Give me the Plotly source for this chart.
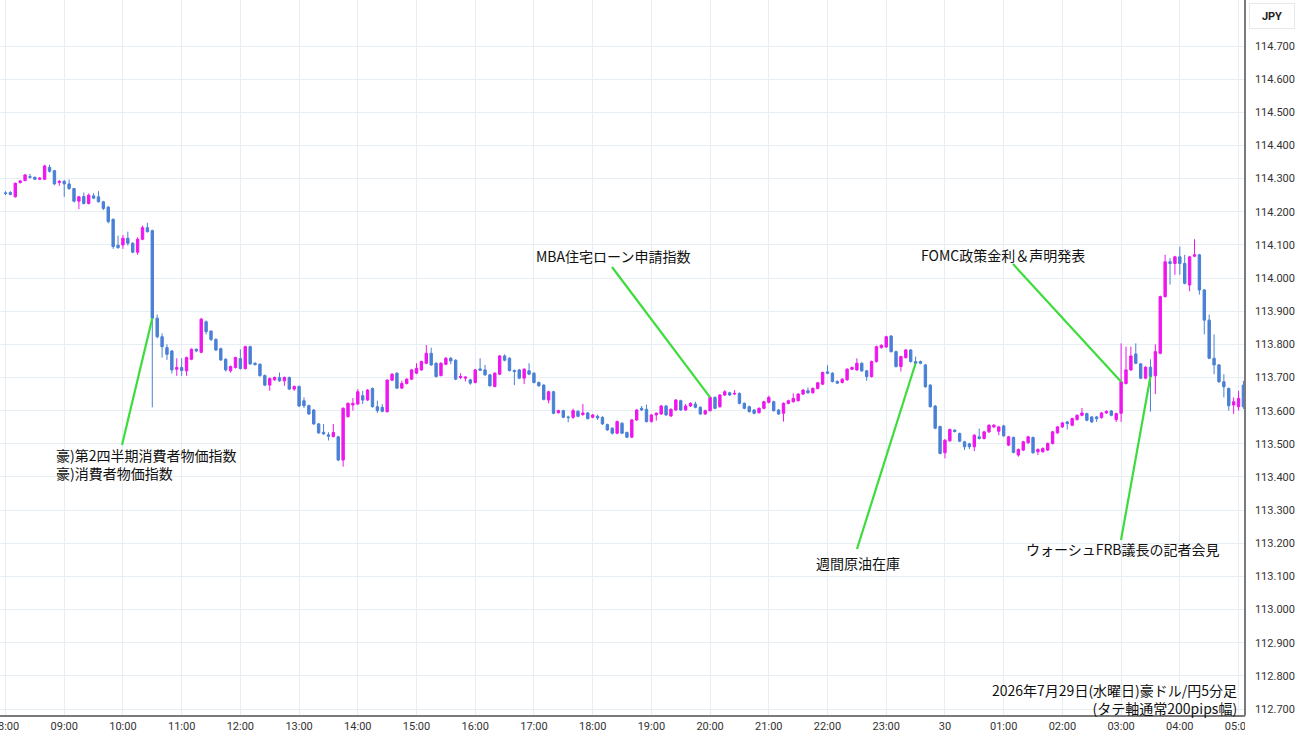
import pandas as pd
import plotly.graph_objects as go

# ---- data: AUD/JPY 5-minute candles, 2026-07-29 08:00 -> 2026-07-30 05:05 ----
start_time = "2026-07-29 08:00"

opens = [
114.257,114.258,114.245,114.288,114.294,114.306,114.304,114.298,114.298,114.334,
114.324,114.288,114.292,114.284,114.270,114.232,114.246,114.225,114.248,114.245,
114.230,114.214,114.177,114.099,114.100,114.120,114.105,114.078,114.117,114.152,
114.143,113.879,113.823,113.790,113.780,113.725,113.730,113.720,113.755,113.785,
113.776,113.868,113.840,113.815,113.787,113.755,113.720,113.730,113.757,113.727,
113.793,113.743,113.740,113.706,113.677,113.693,113.700,113.690,113.700,113.665,
113.673,113.630,113.615,113.602,113.560,113.535,113.527,113.522,113.521,113.451,
113.582,113.617,113.620,113.645,113.632,113.667,113.612,113.610,113.597,113.692,
113.713,113.668,113.682,113.695,113.713,113.723,113.743,113.773,113.743,113.706,
113.740,113.758,113.752,113.700,113.698,113.693,113.685,113.726,113.723,113.708,
113.673,113.710,113.765,113.758,113.721,113.723,113.698,113.720,113.713,113.685,
113.677,113.632,113.657,113.594,113.600,113.581,113.580,113.598,113.588,113.593,
113.580,113.583,113.580,113.558,113.547,113.532,113.562,113.534,113.520,113.572,
113.607,113.604,113.567,113.587,113.590,113.614,113.584,113.602,113.630,113.602,
113.614,113.620,113.610,113.590,113.600,113.640,113.612,113.647,113.654,113.650,
113.652,113.622,113.612,113.602,113.594,113.607,113.625,113.627,113.602,113.592,
113.622,113.627,113.630,113.650,113.660,113.654,113.667,113.680,113.717,113.713,
113.688,113.685,113.693,113.725,113.723,113.743,113.720,113.703,113.748,113.790,
113.792,113.825,113.778,113.733,113.760,113.783,113.748,113.748,113.738,113.677,
113.614,113.552,113.473,113.509,113.541,113.531,113.506,113.500,113.491,113.521,
113.516,113.536,113.551,113.538,113.554,113.496,113.519,113.466,113.481,113.503,
113.519,113.476,113.476,113.481,113.501,113.533,113.551,113.566,113.556,113.573,
113.586,113.591,113.581,113.581,113.579,113.593,113.599,113.573,113.592,113.682,
113.723,113.771,113.741,113.698,113.731,113.705,113.773,113.944,114.049,114.044,
114.064,114.044,113.979,114.066,114.070,113.964,113.873,113.758,113.738,113.687,
113.667,113.617,113.612,113.677]

highs = [
114.262,114.262,114.288,114.296,114.314,114.314,114.306,114.305,114.342,114.342,
114.326,114.295,114.296,114.297,114.272,114.248,114.258,114.255,114.256,114.262,
114.233,114.217,114.180,114.128,114.130,114.140,114.108,114.123,114.158,114.167,
114.146,113.890,113.833,113.800,113.783,113.758,113.758,113.763,113.788,113.788,
113.880,113.872,113.842,113.818,113.790,113.758,113.736,113.763,113.785,113.796,
113.796,113.746,113.743,113.709,113.700,113.703,113.715,113.703,113.703,113.676,
113.676,113.640,113.618,113.605,113.563,113.560,113.535,113.560,113.524,113.610,
113.625,113.638,113.665,113.660,113.665,113.670,113.630,113.620,113.695,113.713,
113.716,113.690,113.698,113.726,113.743,113.751,113.798,113.790,113.746,113.746,
113.762,113.762,113.755,113.713,113.704,113.696,113.726,113.758,113.738,113.711,
113.716,113.768,113.770,113.761,113.724,113.726,113.728,113.743,113.716,113.688,
113.680,113.660,113.660,113.603,113.603,113.585,113.606,113.601,113.620,113.596,
113.590,113.588,113.583,113.561,113.550,113.570,113.565,113.537,113.575,113.605,
113.614,113.618,113.590,113.595,113.617,113.617,113.607,113.635,113.633,113.620,
113.625,113.627,113.613,113.603,113.643,113.643,113.650,113.662,113.657,113.662,
113.655,113.625,113.615,113.605,113.610,113.630,113.645,113.630,113.605,113.625,
113.633,113.652,113.653,113.665,113.670,113.670,113.687,113.718,113.737,113.716,
113.691,113.698,113.728,113.733,113.758,113.746,113.723,113.751,113.796,113.800,
113.826,113.828,113.781,113.766,113.786,113.786,113.763,113.751,113.741,113.680,
113.617,113.555,113.514,113.546,113.544,113.534,113.509,113.503,113.529,113.546,
113.539,113.559,113.559,113.554,113.557,113.524,113.522,113.486,113.509,113.524,
113.522,113.486,113.489,113.504,113.539,113.554,113.566,113.569,113.579,113.589,
113.608,113.594,113.584,113.584,113.596,113.601,113.602,113.594,113.803,113.793,
113.793,113.803,113.744,113.734,113.755,113.800,113.947,114.070,114.060,114.067,
114.095,114.070,114.067,114.117,114.073,113.967,113.890,113.830,113.741,113.710,
113.670,113.640,113.660,113.690]

lows = [
114.250,114.250,114.243,114.285,114.292,114.300,114.296,114.296,114.296,114.318,
114.280,114.278,114.245,114.266,114.228,114.208,114.222,114.222,114.238,114.228,
114.205,114.165,114.088,114.088,114.088,114.098,114.075,114.070,114.114,114.137,
113.610,113.818,113.760,113.753,113.712,113.705,113.705,113.705,113.752,113.776,
113.773,113.830,113.810,113.780,113.750,113.718,113.715,113.727,113.724,113.724,
113.738,113.736,113.702,113.674,113.660,113.690,113.687,113.675,113.662,113.660,
113.611,113.608,113.587,113.557,113.530,113.527,113.510,113.519,113.448,113.431,
113.579,113.600,113.617,113.620,113.629,113.609,113.593,113.595,113.594,113.689,
113.665,113.665,113.679,113.692,113.710,113.720,113.740,113.735,113.700,113.703,
113.737,113.740,113.692,113.695,113.688,113.678,113.682,113.720,113.705,113.672,
113.670,113.707,113.749,113.718,113.677,113.695,113.680,113.707,113.682,113.672,
113.631,113.622,113.589,113.591,113.577,113.565,113.575,113.580,113.585,113.573,
113.577,113.572,113.557,113.539,113.528,113.529,113.529,113.517,113.517,113.569,
113.599,113.564,113.564,113.570,113.587,113.584,113.581,113.599,113.599,113.599,
113.611,113.607,113.587,113.587,113.597,113.604,113.609,113.644,113.644,113.647,
113.619,113.604,113.594,113.589,113.591,113.604,113.622,113.597,113.587,113.567,
113.619,113.624,113.627,113.647,113.651,113.651,113.664,113.677,113.710,113.685,
113.680,113.682,113.690,113.722,113.720,113.717,113.690,113.700,113.745,113.787,
113.789,113.775,113.730,113.718,113.757,113.745,113.740,113.740,113.669,113.609,
113.544,113.468,113.456,113.506,113.534,113.505,113.481,113.484,113.478,113.513,
113.513,113.533,113.548,113.526,113.521,113.493,113.471,113.461,113.478,113.500,
113.470,113.466,113.473,113.478,113.498,113.530,113.548,113.543,113.553,113.570,
113.583,113.568,113.563,113.566,113.576,113.590,113.583,113.566,113.566,113.679,
113.720,113.740,113.695,113.695,113.597,113.650,113.770,113.941,113.980,114.010,
114.010,113.981,113.960,114.063,113.950,113.830,113.755,113.710,113.684,113.640,
113.600,113.590,113.600,113.605]

closes = [
114.255,114.252,114.286,114.293,114.311,114.304,114.298,114.301,114.338,114.322,
114.284,114.292,114.284,114.270,114.232,114.245,114.225,114.250,114.241,114.230,
114.210,114.170,114.095,114.092,114.120,114.105,114.078,114.117,114.152,114.140,
113.879,113.823,113.793,113.770,113.723,113.730,113.721,113.760,113.785,113.780,
113.876,113.838,113.815,113.783,113.753,113.723,113.733,113.760,113.727,113.793,
113.741,113.739,113.706,113.677,113.697,113.700,113.690,113.700,113.665,113.673,
113.614,113.615,113.590,113.560,113.533,113.530,113.523,113.534,113.451,113.607,
113.622,113.622,113.657,113.632,113.662,113.612,113.600,113.598,113.692,113.710,
113.668,113.682,113.695,113.723,113.728,113.748,113.773,113.738,113.703,113.743,
113.758,113.750,113.695,113.703,113.701,113.683,113.723,113.722,113.708,113.675,
113.713,113.765,113.752,113.721,113.718,113.698,113.725,113.710,113.685,113.675,
113.634,113.657,113.592,113.600,113.580,113.579,113.600,113.583,113.593,113.576,
113.587,113.578,113.560,113.542,113.532,113.567,113.532,113.520,113.572,113.602,
113.602,113.567,113.587,113.592,113.614,113.587,113.604,113.632,113.602,113.614,
113.622,113.610,113.590,113.600,113.640,113.607,113.647,113.657,113.647,113.652,
113.622,113.607,113.597,113.592,113.607,113.627,113.640,113.600,113.590,113.622,
113.630,113.637,113.650,113.662,113.654,113.667,113.684,113.715,113.713,113.688,
113.683,113.695,113.725,113.730,113.743,113.720,113.703,113.748,113.793,113.797,
113.823,113.778,113.733,113.763,113.783,113.748,113.743,113.743,113.672,113.612,
113.547,113.471,113.511,113.543,113.537,113.508,113.491,113.491,113.526,113.516,
113.536,113.556,113.556,113.551,113.524,113.521,113.474,113.483,113.506,113.521,
113.473,113.483,113.486,113.501,113.536,113.551,113.563,113.561,113.576,113.586,
113.593,113.571,113.566,113.576,113.593,113.598,113.586,113.591,113.687,113.723,
113.765,113.743,113.698,113.731,113.703,113.778,113.944,114.049,114.044,114.064,
114.044,113.984,114.064,114.070,113.964,113.873,113.758,113.738,113.687,113.672,
113.615,113.627,113.637,113.612]

hour_ticks = ["08:00","09:00","10:00","11:00","12:00","13:00","14:00","15:00",
              "16:00","17:00","18:00","19:00","20:00","21:00","22:00","23:00",
              "30","01:00","02:00","03:00","04:00","05:00"]

# events: label text and the candle index the pointer touches
event_labels = ["豪)第2四半期消費者物価指数<br>豪)消費者物価指数", "MBA住宅ローン申請指数", "週間原油在庫",
                "FOMC政策金利＆声明発表", "ウォーシュFRB議長の記者会見"]
event_candle = [30, 144, 186, 228, 234]

caption = "2026年7月29日(水曜日)豪ドル/円5分足<br>(タテ軸通常200pips幅)"

y_ticks = [112.7 + 0.1 * i for i in range(21)]

# ---- build ----
t0 = pd.Timestamp(start_time)
times = [t0 + pd.Timedelta(minutes=5 * i) for i in range(len(opens))]
hour_vals = [t0 + pd.Timedelta(hours=h) for h in range(len(hour_ticks))]

UP = "#ee16ee"
DOWN = "#4a80d6"
GREEN = "#3ddc3d"

fig = go.Figure(go.Candlestick(
    x=times, open=opens, high=highs, low=lows, close=closes,
    increasing=dict(line=dict(color=UP, width=1), fillcolor=UP),
    decreasing=dict(line=dict(color=DOWN, width=1), fillcolor=DOWN),
    whiskerwidth=0, showlegend=False, hoverinfo="skip",
))

# pixel calibration of the plot area (for placing annotation text)
PX0, PXSTEP = 5.5, 4.893          # x pixel of first candle, px per 5 min
PY_REF, PRICE_REF, PY_PER = 46.0, 114.7, 331.5


def px_to_time(px):
    return t0 + pd.Timedelta(minutes=5 * (px - PX0) / PXSTEP)


def py_to_price(py):
    return PRICE_REF - (py - PY_REF) / PY_PER


x_range = [px_to_time(0), px_to_time(1244)]
y_range = [py_to_price(715), py_to_price(0)]

font_jp = "Noto Sans CJK JP, Noto Sans, sans-serif"
lbl_font = dict(family=font_jp, size=14, color="#111")

# pointer lines from label to candle close
starts_px = [(122, 445), (612, 267), (857, 549), (1013, 264), (1121, 540)]
shapes = []
for (sx, sy), ci in zip(starts_px, event_candle):
    shapes.append(dict(type="line", xref="x", yref="y",
                       x0=px_to_time(sx), y0=py_to_price(sy),
                       x1=times[ci], y1=closes[ci],
                       line=dict(color=GREEN, width=2.2), layer="above"))


def label(text, px, py, anchor="left", align="left"):
    return dict(x=px_to_time(px), y=py_to_price(py), xref="x", yref="y",
                text=text, showarrow=False, xanchor=anchor, yanchor="middle",
                align=align, borderpad=0, font=lbl_font)


# text labels (left px, center py)
text_pos = [(55, 464), (535, 256), (815, 563), (920, 255), (1025, 549)]
annotations = [label(lab, tx, ty) for lab, (tx, ty) in zip(event_labels, text_pos)]
annotations.append(label(caption, 1238, 699, "right", "right"))

# currency box on the price scale
annotations.append(dict(x=1.0, y=1.0, xref="paper", yref="paper", xshift=5, yshift=-3,
                        text="<b>JPY</b>", showarrow=False, xanchor="left", yanchor="top",
                        width=40, height=20, bordercolor="#e8e8e8", borderwidth=1, borderpad=2,
                        bgcolor="white", font=dict(family="Roboto, sans-serif", size=11, color="#222")))

# hide the part of 05:00 label under the price scale
shapes.append(dict(type="rect", xref="paper", yref="paper", x0=1.0008, x1=1.06, y0=-0.06, y1=-0.001,
                   fillcolor="white", line=dict(width=0), layer="above"))

fig.update_layout(
    width=1300, height=745,
    margin=dict(l=0, r=56, t=0, b=30, autoexpand=False),
    paper_bgcolor="white", plot_bgcolor="white",
    shapes=shapes, annotations=annotations,
    xaxis=dict(range=x_range, rangeslider=dict(visible=False),
               tickvals=hour_vals, ticktext=hour_ticks, tickangle=0,
               ticklabeloverflow="allow", automargin=False,
               showgrid=True, gridcolor="#e6edf3", gridwidth=1,
               showline=True, linecolor="#7a7a7a", linewidth=2,
               ticks="", tickfont=dict(family="Roboto, sans-serif", size=11, color="#333"),
               zeroline=False, fixedrange=True),
    yaxis=dict(range=y_range, side="right", tickvals=y_ticks,
               ticktext=[f"{v:.3f}" for v in y_ticks], automargin=False,
               showgrid=True, gridcolor="#e6edf3", gridwidth=1,
               showline=True, linecolor="#7a7a7a", linewidth=1.5,
               ticks="", ticklabelstandoff=7,
               tickfont=dict(family="Roboto, sans-serif", size=11, color="#333"),
               zeroline=False, fixedrange=True),
)

fig.write_html("out.html")
